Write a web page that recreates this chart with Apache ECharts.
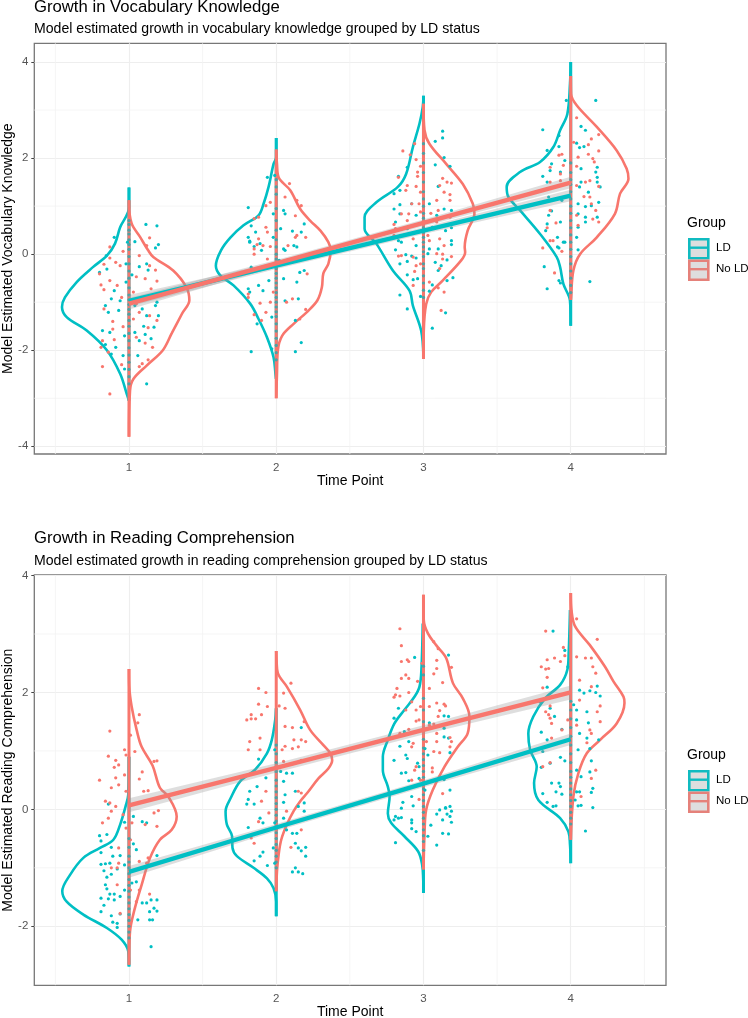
<!DOCTYPE html>
<html><head><meta charset="utf-8">
<style>html,body{margin:0;padding:0;background:#fff}#c{width:748px;height:1018px}</style>
<script src="https://cdn.jsdelivr.net/npm/echarts@6/dist/echarts.min.js"></script>
</head><body><div id="c"></div>
<script>
const TEAL='#00BFC4', RED='#F8766D';
const timePoints=[1,2,3,4];
const groups=['LD','No LD'];
const ticksX=[1,2,3,4], minorX=[0.5,1.5,2.5,3.5,4.5];
const ticksY1=[-4,-2,0,2,4], minorY1=[-3,-1,1,3];
const ticksY2=[-2,0,2,4], minorY2=[-1,1,3];

// trend lines: [time, estimate, half width of the grey band]
const vocabTrendLD=[[1,-0.97,0.12],[2,-0.24,0.07],[3,0.49,0.07],[4,1.22,0.12]];
const vocabTrendNo=[[1,-1.03,0.12],[2,-0.19,0.07],[3,0.65,0.07],[4,1.49,0.12]];
const readTrendLD=[[1,-1.07,0.1],[2,-0.31,0.06],[3,0.44,0.06],[4,1.2,0.1]];
const readTrendNo=[[1,0.07,0.12],[2,0.71,0.08],[3,1.36,0.08],[4,2.0,0.12]];

// violin outlines: [y, half width in time units]
const vocabVioLD=[
[[1.39,0],[0.97,0],[0.56,.06],[0.22,.095],[-0.03,.15],[-0.27,.245],[-0.58,.355],[-0.9,.435],[-1.1,.455],[-1.31,.423],[-1.59,.287],[-2,.15],[-2.49,.06],[-2.9,.016],[-3.05,0]],
[[2.42,0],[2.02,0],[1.88,.018],[1.4,.052],[1.05,.086],[.81,.12],[.6,.222],[.35,.31],[.08,.375],[-.24,.41],[-.44,.38],[-.65,.29],[-1.03,.177],[-1.35,.12],[-1.73,.063],[-2.15,.018],[-2.49,.005],[-2.6,0]],
[[3.3,0],[3.06,.005],[2.72,.027],[2.23,.072],[1.67,.118],[1.4,.174],[1.08,.32],[.77,.4],[.53,.4],[.22,.32],[-.34,.208],[-.76,.095],[-1.07,.072],[-1.59,.016],[-2.14,0]],
[[4,0],[3.55,.005],[2.92,.023],[2.58,.072],[2.23,.118],[1.92,.208],[1.71,.344],[1.4,.435],[1.19,.423],[.91,.344],[.42,.208],[-.06,.095],[-.27,.072],[-.62,.05],[-.97,.005],[-1.49,0]]];
const vocabVioNo=[
[[1.12,0],[1.05,0],[.64,.018],[.36,.075],[.08,.13],[-.06,.165],[-.34,.3],[-.69,.39],[-.96,.41],[-1.24,.36],[-1.65,.29],[-2,.23],[-2.32,.12],[-2.6,.03],[-2.84,.007],[-3.8,0]],
[[2.18,0],[1.88,.005],[1.6,.016],[1.33,.095],[.94,.163],[.7,.23],[.49,.3],[.25,.354],[.08,.37],[-.2,.354],[-.4,.32],[-.69,.31],[-.96,.28],[-1.2,.21],[-1.45,.118],[-1.7,.04],[-2,.011],[-2.5,.005],[-3,0]],
[[3.13,0],[2.58,.007],[2.3,.04],[1.88,.154],[1.46,.267],[1.05,.335],[.84,.346],[.49,.3],[.15,.28],[.04,.283],[-.13,.256],[-.55,.13],[-.79,.052],[-1.04,.018],[-1.59,.002],[-2.18,0]],
[[3.71,0],[3.34,.002],[3.1,.04],[2.65,.177],[2.16,.312],[1.78,.38],[1.57,.392],[1.26,.335],[.84,.3],[.35,.177],[0,.063],[-.34,.018],[-.9,.002],[-.95,0]]];
const readVioLD=[
[[.9,0],[.25,.005],[.08,.02],[-.26,.06],[-.52,.106],[-.66,.197],[-.83,.31],[-1.12,.4],[-1.4,.453],[-1.58,.423],[-1.8,.31],[-2.03,.15],[-2.23,.05],[-2.43,.005],[-2.69,0]],
[[1.73,0],[1.53,.007],[1.19,.03],[.96,.063],[.68,.143],[.48,.245],[.19,.31],[-.03,.344],[-.26,.335],[-.46,.3],[-.66,.297],[-.8,.267],[-1,.154],[-1.18,.063],[-1.35,.018],[-1.58,0],[-1.83,0]],
[[3.18,.005],[2.39,.014],[2.1,.027],[1.93,.06],[1.7,.13],[1.47,.197],[1.19,.242],[.9,.276],[.67,.276],[.39,.242],[.22,.23],[-.07,.242],[-.23,.22],[-.46,.13],[-.72,.036],[-.95,.009],[-1.18,.002],[-1.43,0]],
[[3.41,.005],[2.67,.014],[2.39,.023],[2.13,.072],[1.9,.174],[1.59,.254],[1.3,.288],[1.02,.276],[.73,.231],[.45,.249],[.16,.22],[-.15,.072],[-.38,.016],[-.6,.005],[-.92,0]]];
const readVioNo=[
[[2.4,0],[2.1,.002],[1.76,.018],[1.36,.052],[1.07,.086],[.75,.16],[.37,.21],[.22,.267],[-.12,.324],[-.35,.29],[-.52,.21],[-.83,.143],[-1.29,.086],[-1.69,.04],[-2.09,.007],[-2.66,0]],
[[2.71,0],[2.56,.002],[2.33,.011],[2.1,.072],[1.7,.163],[1.36,.23],[1.1,.32],[.96,.367],[.84,.38],[.7,.354],[.53,.287],[.28,.21],[.14,.163],[-.03,.118],[-.26,.072],[-.52,.034],[-.78,.016],[-1.06,.005],[-1.4,0]],
[[3.67,0],[3.24,.002],[3.01,.03],[2.81,.086],[2.59,.154],[2.16,.2],[1.9,.267],[1.59,.312],[1.3,.3],[1.07,.233],[.73,.143],[.33,.063],[-.01,.018],[-.43,.007],[-1.03,0]],
[[3.7,0],[3.41,.005],[3.13,.03],[2.81,.13],[2.44,.233],[2.19,.29],[1.93,.358],[1.82,.365],[1.47,.312],[1.19,.2],[.96,.109],[.62,.052],[.22,.018],[-.52,0]]];

// raw points: flat x,y lists
const vocabPtsLD=[
.846,-.03,.8,-.38,.85,-.31,.98,-.2,1.04,.26,1.2,.2,1.18,.13,1.12,-.2,1.07,-.26,1.02,-.43,1.13,-.33,.98,-.58,.9,-.76,.88,-.93,.94,-.97,.84,-1.07,.86,-1.21,.93,-1.17,1.04,-1.07,1.09,-1.14,1.19,-1,1.2,-1.28,1.12,-1.28,1.17,-1.52,1.1,-1.5,1.04,-1.63,.82,-1.59,.87,-1.63,.97,-1.7,.91,-1.94,.84,-1.88,.96,-2.11,.88,-2.08,.97,-2.39,1.06,-2.11,1.12,-2.7,1.11,-1.67,1.15,-1.76,1.07,-1.8,1.18,-1.07,1.115,.62,1.19,.59,.9,.35,.99,.25,
1.81,.97,1.94,1.6,1.99,1.64,1.98,.84,2.05,.91,2.06,.84,2.19,.63,1.83,.59,1.86,.46,2.11,.48,1.81,.35,1.82,.27,1.89,.22,2.03,.53,1.98,.35,2.17,.46,2.14,.15,2.05,.11,1.85,.16,1.82,.25,1.9,.08,2.06,.08,2.12,.18,2.02,-.13,1.83,-.27,2.16,-.38,2.19,-.34,2.05,-.51,2.14,-.58,1.95,-.55,1.88,-.65,1.81,-.72,1.82,-.79,1.91,-.76,2.06,-.97,2.15,-.93,1.97,-1.31,2.13,-1.38,1.87,-1.45,2.17,-1.84,1.83,-2.03,2.13,-2.03,1.97,-1.97,
3.13,2.56,3.13,2.42,3.08,2.35,2.89,1.81,2.83,1.62,3.14,2.01,3.18,1.83,3.08,1.86,2.8,1.26,2.84,1.33,2.8,.94,2.84,1.03,2.84,.84,2.92,1.05,2.81,.67,2.95,.81,3.1,1.41,3.04,1.05,3.14,.94,3.19,.91,3.09,.81,3.19,.55,3.15,.49,3.06,.56,2.89,.53,2.83,.28,2.85,.25,3.19,.28,3.19,.2,3.1,.11,3.04,.11,3.03,.01,2.81,.09,2.95,.18,2.88,-.01,2.92,-.04,2.95,-.08,2.89,-.15,2.84,-.2,3.08,-.17,3.16,-.12,3.12,-.24,3.1,-.34,2.89,-.43,2.93,-.53,2.96,-.51,3.2,-.49,3.16,-.55,3.06,-.64,3.04,-.77,2.84,-.85,2.98,-.88,2.89,-1.14,3.15,-1.22,3.06,-1.54,
4.17,3.2,3.97,3.2,3.81,2.59,3.84,2.16,3.92,2.24,3.92,2.47,4.07,2.66,4.1,2.58,4.09,2.24,4.06,2.22,4.04,2.31,3.96,1.95,4.18,1.81,3.87,1.88,3.81,1.62,3.84,1.5,3.86,1.74,3.93,1.71,4.07,1.78,4.17,1.71,4.18,1.6,4.07,1.5,4.06,1.4,4.18,1.5,4.2,1.4,4.12,1.29,4.05,1.05,4.1,.99,4.19,1.08,4.14,1.01,3.85,1.19,3.94,1.12,3.87,.9,3.85,.81,4.05,.84,4.1,.77,4.18,.77,3.84,.63,3.93,.67,4.05,.56,4.1,.67,3.83,.49,3.91,.35,3.95,.25,4.04,.35,3.91,.15,3.92,.13,3.96,.25,4.05,.09,3.82,-.26,3.92,-.55,3.93,-.6,3.84,-.72,4.13,-.57];
const vocabPtsNo=[
.87,.15,.96,.06,.87,-.08,.83,-.21,.91,-.17,.94,-.24,.8,-.41,.87,-.55,.81,-.64,.83,-.74,.92,-.65,.95,-.9,.83,-1.14,.89,-1.4,.96,-1.51,.89,-1.56,.82,-1.8,.9,-1.78,.81,-1.94,.86,-2.04,.95,-2.3,.82,-2.34,.87,-2.91,1.12,.18,1.07,-.03,1.05,-.47,1.11,-.51,1.19,-.56,1.18,-.33,1.15,-.72,1.03,-.79,1.1,-.9,1.05,-1.03,1.07,-1.21,1.03,-1.35,1.14,-1.28,1.13,-1.53,1.05,-1.73,1.11,-1.85,1.16,-1.94,1.09,-2.28,1.13,-2.2,1.07,-2.34,1.14,-.24,1.19,-1.38,1.14,.34,
2.09,1.47,2.06,1.19,2.14,1.12,2.17,1.01,1.93,1.01,1.96,1.08,1.88,.77,1.85,.74,2.13,.8,1.93,.56,1.94,.46,2.13,.35,2.2,.35,1.88,.32,1.96,.16,1.85,.11,2.14,.39,2.08,.18,1.87,.2,1.91,.18,1.94,-.1,1.85,0,2.07,-.13,2.15,-.1,1.98,-.79,1.81,-.83,1.89,-1.02,1.96,-1,2.07,-1,2.11,-.93,2.2,-1.15,1.93,-1.21,1.85,-1.26,1.9,-1.38,2.16,-1.35,1.81,-.9,2.21,-.41,
2.86,2.15,2.91,2.07,2.94,2.3,2.95,1.97,2.98,1.83,2.96,1.71,2.96,1.62,2.83,1.6,3.13,1.58,3.19,1.48,3.16,1.5,2.89,1.43,2.95,1.41,2.88,1.33,3.11,1.43,3.14,1.29,3.18,1.24,2.98,1.29,2.92,1.05,3.09,1.12,2.97,1.05,3.18,1.12,2.85,.84,2.9,.84,2.98,.88,3.05,.85,3.1,.91,2.8,.62,2.89,.7,3.09,.67,3.18,.77,2.81,.53,2.87,.39,2.93,.32,2.8,.39,3.04,.28,3.11,.32,3.03,.39,3.14,.18,2.85,-.03,2.93,-.06,3.09,.01,2.83,-.04,3.19,-.05,2.95,-.24,3.13,-.1,3.11,-.3,2.94,-.36,2.93,-.65,3.04,-.58,3.14,-.79,3.1,-.7,3.12,-1.17,3.13,0,2.98,-.2,
4.04,2.84,4.19,2.49,4.14,2.4,4.02,2.33,4.12,2.28,4.19,2.15,4.12,2.08,3.94,2.08,3.92,2.06,4.05,2.02,3.86,1.81,3.95,1.85,4.15,1.99,3.93,1.67,4.04,1.83,4.16,1.92,3.86,1.5,3.93,1.53,4.1,1.5,4.13,1.53,4.19,1.41,4.04,1.43,4.13,1.19,4.09,1.2,4.14,1.05,4.17,.91,4.04,.81,3.86,.91,4.15,.73,4.19,.67,3.9,.65,3.84,.55,4.05,.6,3.86,.28,3.88,.28,3.81,.13,3.94,.06,3.89,-.39];
const readPtsLD=[
.86,.09,.97,-.22,1.03,-.12,1.09,-.21,1.12,-.23,.8,-.45,.81,-.54,.85,-.43,.88,-.65,.81,-.74,.89,-.8,.94,-.79,1.03,-.59,1.05,-.69,1.19,-.79,.81,-.94,.84,-.93,.87,-.92,.92,-1.02,.97,-.95,.83,-1.05,.85,-1.16,.88,-1.11,.84,-1.29,.85,-1.36,.87,-1.45,.9,-1.45,.97,-1.38,1.02,-1.26,1.05,-1.24,.81,-1.52,.86,-1.53,.9,-1.55,.94,-1.49,.83,-1.64,.81,-1.75,.88,-1.82,.94,-1.79,1.12,-1.6,1.15,-1.55,1.19,-1.55,1.17,-1.69,1.19,-1.74,1.14,-1.75,1.09,-1.6,1.06,-1.89,1.14,-1.89,1.16,-1.89,.89,-1.93,.92,-1.95,.92,-2.02,1.15,-2.35,
2.17,1.4,1.88,.86,1.99,1.02,1.93,.54,2.03,.65,2.07,.62,2.11,.62,2.05,.48,1.82,.31,1.87,.39,2.06,.25,2.13,.31,2.19,.11,1.81,.17,1.8,.09,1.85,.09,2.05,.12,2.15,.05,2.19,-.03,1.89,-.15,1.91,-.23,1.81,-.31,1.99,-.23,2.05,-.15,2.07,-.35,2.14,-.41,2.11,-.41,2.13,-.58,2.15,-.66,1.98,-.66,2.2,-.65,2.17,-.71,2.2,-.8,1.85,-.88,1.89,-.8,1.94,-.96,1.99,-.92,2.13,-1,2.11,-1.07,2.15,-1.07,2.18,-1.1,1.91,-.73,
3.17,2.64,2.94,2.6,2.83,1.73,2.8,1.56,3.14,1.6,3.17,1.59,2.87,1.33,3.04,1.48,3.14,1.39,3.14,1.24,3.17,1.22,2.84,1.08,3.01,1.04,2.9,1.16,2.88,.93,3.03,.93,3.18,.97,2.8,.84,2.89,.87,2.96,.79,2.85,.62,2.88,.63,2.97,.73,2.9,.49,2.97,.53,3.14,.51,3.01,.33,3.18,.33,2.92,.22,2.86,.12,3.18,.05,3.15,.03,2.93,.06,2.85,.02,2.81,-.12,2.8,-.18,2.83,-.15,2.85,-.14,2.92,-.18,2.92,-.23,2.92,-.33,2.95,-.38,3.09,-.08,3.11,-.01,3.15,.02,3.19,-.03,3.16,-.08,3.18,-.12,3.13,-.18,3.19,-.22,3.05,-.27,3.03,-.46,3.13,-.41,3.17,-.42,3.09,-.61,2.81,-.57,
3.88,3.05,3.96,2.72,3.98,2.44,3.84,2.09,4.18,2.11,4.09,1.99,4.13,2.03,4.17,2,4.2,1.94,4.06,2.04,3.79,1.84,3.86,1.73,4.02,1.79,4.04,1.7,4.11,1.67,3.89,1.59,3.94,1.37,3.8,1.32,4.04,1.53,4.12,1.48,4.06,1.3,4.11,1.22,4.19,1.19,3.84,1.19,4.05,1.02,4.13,1.04,3.81,.99,3.93,.89,3.96,.83,3.86,.79,4.14,.83,3.8,.72,4.04,.67,4.13,.64,4.07,.56,3.87,.45,3.92,.45,3.93,.39,3.9,.3,3.94,.26,3.81,.27,4.04,.3,4.06,.3,4.15,.36,4.14,.29,4.03,.16,4.05,.06,4.07,.07,4.15,.03,3.84,.12,3.9,.06,3.88,.05,4.1,-.37];
const readPtsNo=[
1.07,1.62,.87,1.34,1.06,1.48,1.01,1.27,.97,1.02,1.04,.99,.86,.91,.98,.93,.91,.84,1.19,.83,1.17,.82,.93,.76,.9,.72,.97,.59,.91,.54,.8,.5,1.07,.52,1.09,.64,.93,.42,.88,.37,.98,.31,1.1,.31,1.13,.32,.84,.14,.87,.11,.91,.05,.88,-.03,1.2,-.02,1.17,-.06,.86,-.15,.82,-.23,.96,-.09,1.02,-.23,.98,-.32,1.19,-.29,1.11,-.26,1.01,-.52,.93,-.66,1.13,-.83,1.07,-.89,.93,-.92,.88,-1,.92,-1.29,1.01,-1.38,.94,-1.78,1.05,-1.58,1.07,-1.38,1.14,-1.45,.92,-1,1.12,-.92,
1.88,2.07,1.93,2,2.1,2.16,1.88,1.8,1.94,1.76,2.02,1.77,2.06,1.73,1.9,1.62,1.83,1.62,1.8,1.53,1.83,1.55,1.86,1.55,2.05,1.99,2.06,1.42,2.11,1.4,2.19,1.5,2,1.33,1.89,1.22,1.82,1.16,2.12,1.19,2.17,1.19,2.2,1.16,2.06,1.08,2.11,1.04,2.15,1.07,2.04,1.02,1.81,1.02,1.89,1.02,2.05,.82,2.11,.78,2.17,.84,2.15,.31,2.17,.28,1.93,.31,1.88,-.21,1.95,-.06,2.07,-.03,2.17,-.35,1.83,-.49,1.85,-.58,2.1,-.65,1.9,.14,
2.84,3.09,2.85,2.8,3.07,2.87,3.1,2.75,2.89,2.56,2.85,2.53,2.9,2.53,3.09,2.55,2.99,2.5,3.09,2.41,3.19,2.43,3.07,2.32,2.88,2.3,2.9,2.24,2.85,2.24,3.13,2.17,2.96,2.19,2.82,2.07,2.9,2,3.04,2.07,2.81,1.96,2.84,1.94,2.8,1.92,2.92,1.84,3.09,1.82,3.14,1.8,3.15,1.77,2.98,1.76,3.04,1.76,2.88,1.7,3.11,1.69,2.95,1.7,3.1,1.59,2.97,1.53,2.95,1.51,3.04,1.44,3.07,1.46,2.9,1.37,3.09,1.3,2.84,1.3,3.18,1.23,3.19,1.16,3.02,1.16,3.09,1.16,2.93,1.13,3.18,1.07,2.92,1.07,3.07,.99,3.11,.97,2.95,.73,3.06,.71,2.94,.67,2.92,.5,2.98,.5,3.13,.27,3.06,.64,2.97,.17,
4.04,3.26,3.83,3.05,4.18,2.91,3.95,2.77,3.96,2.63,3.84,2.56,3.89,2.59,4.04,2.61,4.1,2.59,4.14,2.59,3.93,2.53,3.8,2.44,3.85,2.41,3.83,2.4,4.15,2.44,4.17,2.33,3.84,2.26,4.06,2.21,3.81,2.08,4.14,2.1,3.86,1.77,4.06,1.87,4.2,1.77,3.83,1.67,3.85,1.62,4.18,1.67,3.86,1.56,3.87,1.47,4.2,1.5,3.98,1.53,4.04,1.44,4.13,1.36,4.14,1.3,3.94,1.36,4.11,1.14,3.87,1.22,4.17,.67,4.14,.53,3.86,.8,3.81,.73,4.07,.22];

// points falling on the centre line of each time point: y values
const vocabCentre=[[.7,.62,.5,.42,.3,.2,.1,-.05,-.2,-.35,-.5,-.7,-.85,-.95,-1.05,-1.15,-1.25,-1.38,-1.5,-1.65,-1.8,-1.95,-2.1,-2.25,-2.4,-2.55,-2.7],
[1.55,1.4,1.25,.95,.7,.5,.3,.15,0,-.1,-.2,-.3,-.4,-.5,-.6,-.7,-.8,-.9,-1,-1.1,-1.2,-1.3,-1.45,-1.6,-1.75,-1.9,-2.05,-2.2],
[2.3,2.1,1.9,1.7,1.5,1.3,1.15,1,.85,.75,.65,.55,.45,.35,.25,.15,.05,-.05,-.2,-.3,-.45,-.6,-.75,-.9],
[1.9,1.7,1.55,1.45,1.3,1.15,1,.85,.7,.55,.4,.25,.1,-.05,-.2,-.35,-.5,-.65,-.8]];
const readCentre=[[-.5,-.65,-.8,-.9,-1,-1.1,-1.2,-1.3,-1.4,-1.5,-1.6,-1.7,-1.8,-1.9,-2,-2.1,-2.2],
[1.1,.95,.8,.65,.5,.4,.3,.2,.1,0,-.1,-.2,-.3,-.4,-.5,-.6,-.7,-.8,-.9,-1],
[2.45,2.3,1.9,1.7,1.5,1.35,1.2,1.05,.95,.85,.75,.65,.55,.45,.35,.25,.15,.05,-.05,-.15,-.25,-.35,-.45,-.55,-.7],
[1.85,1.7,1.55,1.4,1.25,1.1,.95,.8,.65,.55,.45,.35,.25,.15,.05,-.05,-.15,-.25]];

function pairs(a){const o=[];for(let i=0;i<a.length;i+=2)o.push([a[i],a[i+1]]);return o;}
const silent={silent:true,animation:false};
function violins(gi,vio,sign,color){
  const out=[];
  vio.forEach((v,i)=>{
    const t=timePoints[i];
    out.push({...silent,type:'line',xAxisIndex:gi,yAxisIndex:gi,showSymbol:false,smooth:.35,z:4,
      lineStyle:{color,width:2.6},data:v.map(p=>[t+sign*p[1],p[0]])});
    out.push({...silent,type:'line',xAxisIndex:gi,yAxisIndex:gi,showSymbol:false,z:4,
      lineStyle:{color,width:3,cap:'butt'},data:[[t,v[0][0]],[t,v[v.length-1][0]]]});
  });
  return out;
}
function band(gi,tr){
  return {...silent,type:'custom',xAxisIndex:gi,yAxisIndex:gi,z:6,data:tr,clip:true,
    renderItem(params,api){
      if(params.dataIndex!==0)return null;
      const up=tr.map(d=>api.coord([d[0],d[1]+d[2]])),lo=tr.map(d=>api.coord([d[0],d[1]-d[2]])).reverse();
      return {type:'polygon',shape:{points:up.concat(lo)},style:{fill:'rgba(153,153,153,0.32)'}};
    }};
}
function trend(gi,tr,color){
  return {...silent,type:'line',xAxisIndex:gi,yAxisIndex:gi,showSymbol:false,z:7,lineStyle:{color,width:4.4,cap:'butt'},data:tr.map(d=>[d[0],d[1]])};
}
function dots(gi,data,color,op){
  return {...silent,type:'scatter',xAxisIndex:gi,yAxisIndex:gi,symbolSize:3.2,z:5,itemStyle:{color,opacity:op},data};
}
function minor(gi,xs,ys,ymin,ymax){
  const st={color:'#f3f3f3',width:.8},o=[];
  xs.forEach(x=>o.push({...silent,type:'line',xAxisIndex:gi,yAxisIndex:gi,showSymbol:false,z:1,lineStyle:st,data:[[x,ymin],[x,ymax]]}));
  ys.forEach(y=>o.push({...silent,type:'line',xAxisIndex:gi,yAxisIndex:gi,showSymbol:false,z:1,lineStyle:st,data:[[X0,y],[X1,y]]}));
  return o;
}
const X0=.357,X1=4.647,Y1=[-4.16,4.39],Y2=[-3.01,4.01];
const FONT='"Liberation Sans",Arial,sans-serif';
function xAxis(gi){return {gridIndex:gi,type:'value',min:X0,max:X1,name:'Time Point',nameLocation:'middle',nameGap:20,nameMoveOverlap:false,
  nameTextStyle:{color:'#000',fontSize:14,fontFamily:FONT},
  axisLine:{show:false},axisTick:{show:true,length:3,lineStyle:{color:'#444'},customValues:ticksX},
  axisLabel:{customValues:ticksX,color:'#555',fontSize:11.5,fontFamily:FONT,margin:8},
  splitLine:{show:true,lineStyle:{color:'#eeeeee',width:1.2}}};}
function yAxis(gi,ext,t,name){return {gridIndex:gi,type:'value',min:ext[0],max:ext[1],name,nameLocation:'middle',nameGap:19,nameMoveOverlap:false,
  nameTextStyle:{color:'#000',fontSize:14,fontFamily:FONT},
  axisLine:{show:false},axisTick:{show:true,length:3,lineStyle:{color:'#444'},customValues:t},
  axisLabel:{customValues:t,color:'#555',fontSize:11.5,fontFamily:FONT,margin:6,showMinLabel:true,showMaxLabel:true},
  splitLine:{show:true,lineStyle:{color:'#eeeeee',width:1.2}}};}
function legend(top){
  const items=[];
  items.push({type:'text',left:687,top:top-8,style:{text:'Group',font:'14px '+FONT,fill:'#000'}});
  groups.forEach((g,i)=>{
    const y=top+14+i*21.5,c=i?'#E5817A':'#10BBC0';
    items.push({type:'rect',left:688,top:y,shape:{x:0,y:0,width:19,height:19},style:{fill:'#dedede',stroke:c,lineWidth:2.6}});
    items.push({type:'rect',left:688,top:y+8.5,shape:{x:0,y:0,width:19,height:2.4},style:{fill:c}});
    items.push({type:'text',left:716,top:y+3.5,style:{text:g,font:'11.5px '+FONT,fill:'#000'}});
  });
  return items;
}
const option={
  animation:false,backgroundColor:'#fff',
  title:[
    {text:'Growth in Vocabulary Knowledge',left:34,top:-1,padding:0,textStyle:{fontSize:16.7,fontWeight:'normal',color:'#000',fontFamily:FONT}},
    {text:'Model estimated growth in vocabulary knowledge grouped by LD status',left:34,top:22,padding:0,textStyle:{fontSize:14.1,fontWeight:'normal',color:'#000',fontFamily:FONT}},
    {text:'Growth in Reading Comprehension',left:34,top:530,padding:0,textStyle:{fontSize:16.7,fontWeight:'normal',color:'#000',fontFamily:FONT}},
    {text:'Model estimated growth in reading comprehension grouped by LD status',left:34,top:554,padding:0,textStyle:{fontSize:14.1,fontWeight:'normal',color:'#000',fontFamily:FONT}}
  ],
  grid:[
    {left:34.3,top:43.3,width:631.7,height:410.7,show:true,borderColor:'#777',borderWidth:1.3,backgroundColor:'#fff',outerBoundsMode:'none'},
    {left:34.3,top:575,width:631.7,height:410.3,show:true,borderColor:'#777',borderWidth:1.3,backgroundColor:'#fff',outerBoundsMode:'none'}
  ],
  xAxis:[xAxis(0),xAxis(1)],
  yAxis:[yAxis(0,Y1,ticksY1,'Model Estimated Vocabulary Knowledge'),yAxis(1,Y2,ticksY2,'Model Estimated Reading Comprehension')],
  graphic:legend(224).concat(legend(756)),
  series:[].concat(
    minor(0,minorX,minorY1,Y1[0],Y1[1]),minor(1,minorX,minorY2,Y2[0],Y2[1]),
    violins(0,vocabVioLD,-1,TEAL),violins(0,vocabVioNo,1,RED),
    violins(1,readVioLD,-1,TEAL),violins(1,readVioNo,1,RED),
    dots(0,pairs(vocabPtsLD),TEAL,1),dots(0,pairs(vocabPtsNo),RED,1),
    dots(1,pairs(readPtsLD),TEAL,1),dots(1,pairs(readPtsNo),RED,1),
    dots(0,vocabCentre.flatMap((c,i)=>c.map(y=>[timePoints[i],y])),'#3aa5a8',.9),
    dots(1,readCentre.flatMap((c,i)=>c.map(y=>[timePoints[i],y])),'#3aa5a8',.9),
    band(0,vocabTrendLD),band(0,vocabTrendNo),band(1,readTrendLD),band(1,readTrendNo),
    trend(0,vocabTrendLD,TEAL),trend(0,vocabTrendNo,RED),trend(1,readTrendLD,TEAL),trend(1,readTrendNo,RED)
  )
};
echarts.init(document.getElementById('c'),null,{renderer:'canvas'}).setOption(option);
</script></body></html>
